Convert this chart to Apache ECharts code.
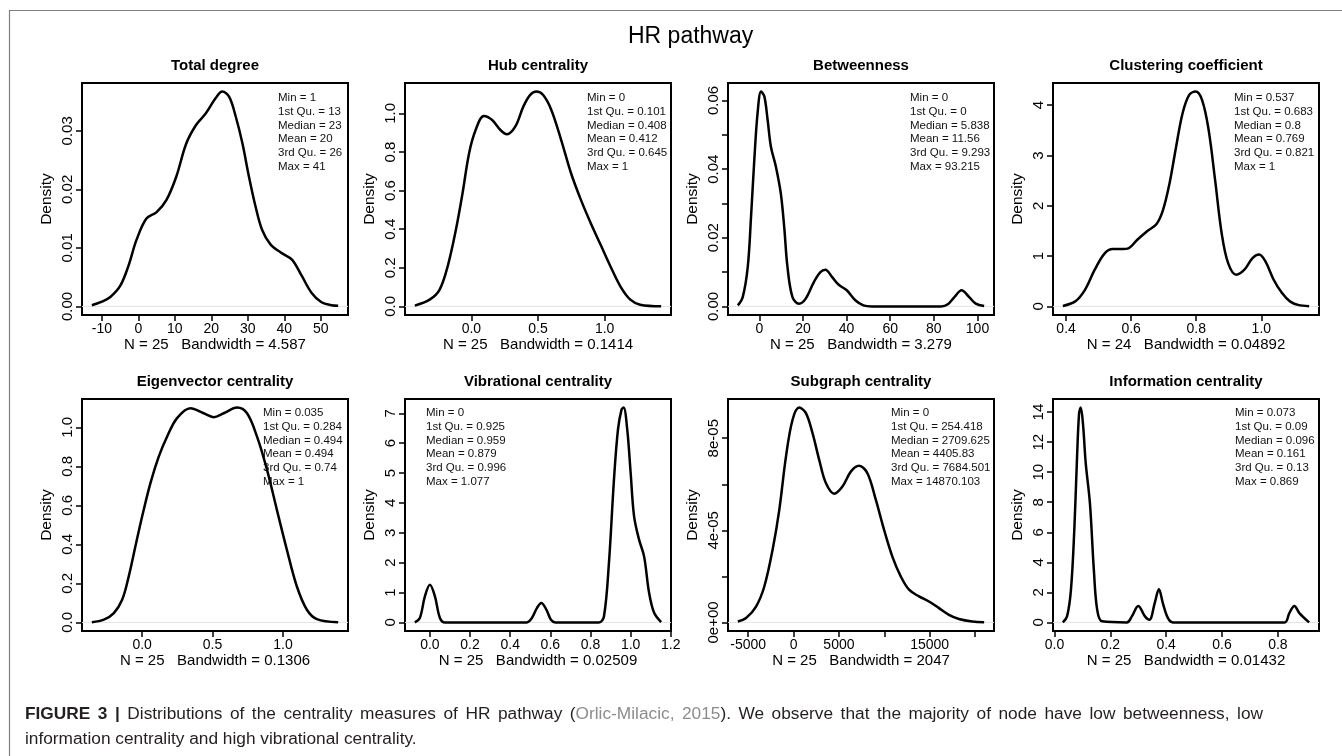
<!DOCTYPE html>
<html><head><meta charset="utf-8">
<script src="https://cdn.jsdelivr.net/npm/echarts@6/dist/echarts.min.js"></script>
<style>html,body{margin:0;padding:0;background:#fff}#c{width:1342px;height:756px}</style>
</head><body><div id="c"></div>
<script>
// ---------------- DATA ----------------
const mainTitle = 'HR pathway';
const panelTitles = ['Total degree','Hub centrality','Betweenness','Clustering coefficient',
  'Eigenvector centrality','Vibrational centrality','Subgraph centrality','Information centrality'];
const statLines = [
  ['Min = 1','1st Qu. = 13','Median = 23','Mean = 20','3rd Qu. = 26','Max = 41'],
  ['Min = 0','1st Qu. = 0.101','Median = 0.408','Mean = 0.412','3rd Qu. = 0.645','Max = 1'],
  ['Min = 0','1st Qu. = 0','Median = 5.838','Mean = 11.56','3rd Qu. = 9.293','Max = 93.215'],
  ['Min = 0.537','1st Qu. = 0.683','Median = 0.8','Mean = 0.769','3rd Qu. = 0.821','Max = 1'],
  ['Min = 0.035','1st Qu. = 0.284','Median = 0.494','Mean = 0.494','3rd Qu. = 0.74','Max = 1'],
  ['Min = 0','1st Qu. = 0.925','Median = 0.959','Mean = 0.879','3rd Qu. = 0.996','Max = 1.077'],
  ['Min = 0','1st Qu. = 254.418','Median = 2709.625','Mean = 4405.83','3rd Qu. = 7684.501','Max = 14870.103'],
  ['Min = 0.073','1st Qu. = 0.09','Median = 0.096','Mean = 0.161','3rd Qu. = 0.13','Max = 0.869']
];
const xAxisTitles = ['N = 25   Bandwidth = 4.587','N = 25   Bandwidth = 0.1414','N = 25   Bandwidth = 3.279',
  'N = 24   Bandwidth = 0.04892','N = 25   Bandwidth = 0.1306','N = 25   Bandwidth = 0.02509',
  'N = 25   Bandwidth = 2047','N = 25   Bandwidth = 0.01432'];
const yAxisTitle = 'Density';

const xTicks = [
  [-10,0,10,20,30,40,50],[0,0.5,1.0],[0,20,40,60,80,100],[0.4,0.6,0.8,1.0],
  [0,0.5,1.0],[0,0.2,0.4,0.6,0.8,1.0,1.2],[-5000,0,5000,10000,15000,20000],[0,0.2,0.4,0.6,0.8]
];
const xTickLabels = [
  ['-10','0','10','20','30','40','50'],['0.0','0.5','1.0'],['0','20','40','60','80','100'],['0.4','0.6','0.8','1.0'],
  ['0.0','0.5','1.0'],['0.0','0.2','0.4','0.6','0.8','1.0','1.2'],['-5000','0','5000','','15000',''],['0.0','0.2','0.4','0.6','0.8']
];
const yTicks = [
  [0,0.01,0.02,0.03],[0,0.2,0.4,0.6,0.8,1.0],[0,0.01,0.02,0.03,0.04,0.05,0.06],[0,1,2,3,4],
  [0,0.2,0.4,0.6,0.8,1.0],[0,1,2,3,4,5,6,7],[0,2e-5,4e-5,6e-5,8e-5],[0,2,4,6,8,10,12,14]
];
const yTickLabels = [
  ['0.00','0.01','0.02','0.03'],['0.0','0.2','0.4','0.6','0.8','1.0'],['0.00','','0.02','','0.04','','0.06'],['0','1','2','3','4'],
  ['0.0','0.2','0.4','0.6','0.8','1.0'],['0','1','2','3','4','5','6','7'],['0e+00','','4e-05','','8e-05'],['0','2','4','6','8','10','12','14']
];

// density curves: [x, density]
const curveTotalDegree = [[-12.76,0.0002],[-10,0.0008],[-7.7,0.0016],[-5,0.0035],[-2.8,0.0068],[-0.5,0.0114],[2.2,0.0150],[5.0,0.0161],[7.7,0.0182],[10.4,0.0222],[13.1,0.0278],[15.8,0.0310],[18.5,0.0330],[21.2,0.0356],[23.0,0.0367],[24.9,0.0358],[26.7,0.0324],[28.5,0.0279],[30.3,0.0222],[32.1,0.0171],[33.9,0.0131],[36.2,0.0106],[39.3,0.0091],[42.1,0.0080],[44.8,0.0052],[47.5,0.0023],[50.2,0.0007],[52.9,0.0002],[54.76,0.0001]];
const curveHub = [[-0.424,0.004],[-0.313,0.035],[-0.239,0.086],[-0.178,0.207],[-0.116,0.397],[-0.066,0.587],[-0.017,0.794],[0.032,0.914],[0.094,0.987],[0.156,0.966],[0.218,0.914],[0.267,0.892],[0.329,0.931],[0.39,1.035],[0.44,1.095],[0.489,1.113],[0.539,1.095],[0.60,1.018],[0.674,0.862],[0.748,0.690],[0.822,0.552],[0.896,0.431],[0.970,0.319],[1.044,0.207],[1.119,0.103],[1.193,0.035],[1.267,0.009],[1.424,0.001]];
const curveBetweenness = [[-9.84,0.0003],[-7.6,0.0027],[-5.3,0.0115],[-3.8,0.0261],[-2.3,0.0427],[-0.8,0.0563],[0.8,0.0626],[2.3,0.0612],[3.8,0.0544],[5.3,0.0466],[7.6,0.0407],[9.85,0.0329],[11.4,0.0232],[12.9,0.0115],[15.2,0.0027],[18.2,0.0008],[21.2,0.0022],[25,0.0071],[28,0.0100],[30.3,0.0107],[33.3,0.0086],[36.4,0.0063],[40.1,0.0047],[44,0.0018],[47.7,0.0003],[51.5,0],[60,0],[70,0],[80,0],[83.3,0],[86.4,0.0006],[89.4,0.0027],[92.7,0.0047],[96.2,0.0027],[99.2,0.0008],[103.05,0.0001]];
const curveClustering = [[0.390,0.01],[0.428,0.1],[0.458,0.33],[0.488,0.73],[0.518,1.05],[0.543,1.14],[0.568,1.14],[0.593,1.16],[0.618,1.32],[0.648,1.49],[0.678,1.64],[0.698,1.92],[0.718,2.45],[0.738,3.17],[0.758,3.84],[0.778,4.20],[0.798,4.27],[0.818,4.10],[0.838,3.51],[0.858,2.51],[0.878,1.46],[0.898,0.86],[0.923,0.63],[0.948,0.73],[0.973,0.96],[0.993,1.03],[1.013,0.89],[1.038,0.53],[1.063,0.27],[1.088,0.1],[1.113,0.03],[1.147,0.005]];
const curveEigenvector = [[-0.357,0.001],[-0.272,0.014],[-0.201,0.048],[-0.142,0.116],[-0.095,0.236],[-0.048,0.389],[0.0,0.543],[0.059,0.714],[0.118,0.85],[0.177,0.952],[0.248,1.047],[0.343,1.098],[0.437,1.072],[0.508,1.052],[0.579,1.072],[0.674,1.101],[0.745,1.072],[0.816,0.952],[0.887,0.782],[0.957,0.577],[1.028,0.372],[1.099,0.184],[1.17,0.065],[1.241,0.017],[1.392,0.001]];
const curveVibrational = [[-0.075,0.0],[-0.05,0.15],[-0.025,0.87],[0.0,1.26],[0.025,0.87],[0.05,0.15],[0.075,0.0],[0.2,0],[0.35,0],[0.483,0],[0.508,0.15],[0.533,0.48],[0.555,0.65],[0.58,0.43],[0.603,0.09],[0.625,0],[0.75,0],[0.842,0],[0.867,0.2],[0.892,2.0],[0.917,4.79],[0.937,6.46],[0.955,7.13],[0.965,7.19],[0.983,6.46],[1.0,5.01],[1.017,3.56],[1.042,2.77],[1.067,2.21],[1.092,0.99],[1.117,0.32],[1.152,0.01]];
const curveSubgraph = [[-6141,4e-7],[-5237,1.9e-6],[-4137,6.9e-6],[-3224,1.56e-5],[-2310,3.16e-5],[-1573,4.89e-5],[-836,7.2e-5],[-110,8.8e-5],[627,9.33e-5],[1364,9.09e-5],[2090,8.22e-5],[2828,7.06e-5],[3565,6.05e-5],[4478,5.59e-5],[5391,5.9e-5],[6315,6.55e-5],[7228,6.8e-5],[8142,6.48e-5],[9066,5.33e-5],[9979,4.02e-5],[10892,2.86e-5],[11816,2.0e-5],[12730,1.42e-5],[13830,1.13e-5],[14930,9.1e-6],[16031,6.2e-6],[17131,3.3e-6],[18231,1.5e-6],[19694,4e-7],[21011,1e-7]];
const curveInformation = [[0.030,0],[0.045,0.4],[0.059,2.17],[0.071,6.15],[0.080,10.58],[0.088,13.9],[0.094,14.3],[0.102,13.23],[0.112,10.58],[0.127,7.92],[0.141,3.5],[0.153,0.84],[0.171,0.07],[0.259,0],[0.277,0.4],[0.300,1.1],[0.324,0.4],[0.340,0.18],[0.359,1.29],[0.374,2.21],[0.388,1.29],[0.406,0.3],[0.424,0],[0.6,0],[0.824,0],[0.841,0.62],[0.859,1.1],[0.877,0.62],[0.912,0]];
const curves = [curveTotalDegree,curveHub,curveBetweenness,curveClustering,curveEigenvector,curveVibrational,curveSubgraph,curveInformation];

// caption: [text, style] segments; b = bold, n = normal, c = citation
const captionSegments1 = [['FIGURE 3 |','b'],[' Distributions of the centrality measures of HR pathway (','n'],['Orlic-Milacic, 2015','c'],['). We observe that the majority of node have low betweenness, low','n']];
const captionLine2 = 'information centrality and high vibrational centrality.';

// ---------------- LAYOUT ----------------
const FONT = '"Liberation Sans", Arial, Helvetica, sans-serif';
const gridLefts = [82, 405, 728, 1053];
const gridWidth = 266;
const rowTops = [83, 399];
const gridHeight = 232;
const statOffsets = [196, 182, 182, 181, 181, 21, 163, 182];

const grids = [], xAxes = [], yAxes = [], series = [], graphics = [];

function labelFormatter(ticks, labels) {
  const span = Math.abs(ticks[ticks.length-1] - ticks[0]) || 1;
  return function (v) {
    for (let i = 0; i < ticks.length; i++) if (Math.abs(ticks[i] - v) < span * 1e-6) return labels[i];
    return '';
  };
}

for (let i = 0; i < 8; i++) {
  const row = Math.floor(i / 4), col = i % 4;
  const left = gridLefts[col], top = rowTops[row];
  grids.push({left: left, top: top, width: gridWidth, height: gridHeight, show: true,
    borderColor: '#000', borderWidth: 2, backgroundColor: 'transparent', containLabel: false});
  const c = curves[i];
  const x0 = c[0][0], x1 = c[c.length-1][0];
  const xpad = (x1 - x0) * 0.04;
  let ymax = 0; c.forEach(p => { if (p[1] > ymax) ymax = p[1]; });
  const ypad = ymax * 0.04;
  const xl = xTicks[i].filter((t, k) => xTickLabels[i][k] !== '');
  const yl = yTicks[i].filter((t, k) => yTickLabels[i][k] !== '');
  xAxes.push({type: 'value', gridIndex: i, min: x0 - xpad, max: x1 + xpad, position: 'bottom',
    axisLine: {show: false, onZero: false}, splitLine: {show: false},
    axisTick: {show: true, customValues: xTicks[i], length: 6, lineStyle: {color: '#000', width: 1.5}},
    axisLabel: {show: true, customValues: xl, formatter: labelFormatter(xTicks[i], xTickLabels[i]),
      fontSize: 14, color: '#000', fontFamily: FONT, margin: 7, hideOverlap: false}
  });
  yAxes.push({type: 'value', gridIndex: i, min: -ypad, max: ymax + ypad, position: 'left',
    name: yAxisTitle, nameLocation: 'middle', nameGap: 27, nameRotate: 90,
    nameTextStyle: {fontSize: 15.5, color: '#000', fontFamily: FONT},
    axisLine: {show: false, onZero: false}, splitLine: {show: false},
    axisTick: {show: true, customValues: yTicks[i], length: 6, lineStyle: {color: '#000', width: 1.5}},
    axisLabel: {show: true, customValues: yl, formatter: labelFormatter(yTicks[i], yTickLabels[i]),
      rotate: 90, fontSize: 15, color: '#000', fontFamily: FONT, margin: 7, hideOverlap: false}
  });
  series.push({type: 'line', xAxisIndex: i, yAxisIndex: i, data: [[x0 - xpad, 0], [x1 + xpad, 0]],
    showSymbol: false, silent: true, z: 1, lineStyle: {color: '#e3e3e3', width: 1}, animation: false});
  series.push({type: 'line', xAxisIndex: i, yAxisIndex: i, data: c, smooth: 0.35,
    showSymbol: false, silent: true, z: 3, lineStyle: {color: '#000', width: 2.5}, animation: false, clip: true});

  graphics.push({type: 'text', x: left + gridWidth / 2, y: top - 17, silent: true,
    style: {text: panelTitles[i], font: 'bold 15px ' + FONT, fill: '#000', align: 'center', verticalAlign: 'middle'}});
  graphics.push({type: 'text', x: left + gridWidth / 2, y: top + gridHeight + 30, silent: true,
    style: {text: xAxisTitles[i], font: '15px ' + FONT, fill: '#000', align: 'center', verticalAlign: 'middle'}});
  graphics.push({type: 'text', x: left + statOffsets[i], y: top + (row === 0 ? 8 : 7), silent: true,
    style: {text: statLines[i].join('\n'), font: '11.5px ' + FONT, fill: '#111', align: 'left', verticalAlign: 'top', lineHeight: 13.8}});
}

graphics.push({type: 'text', x: 628, y: 37, silent: true,
  style: {text: mainTitle, font: '23px ' + FONT, fill: '#000', align: 'left', verticalAlign: 'middle'}});
graphics.push({type: 'polyline', silent: true, shape: {points: [[9.5, 756], [9.5, 10.5], [1342, 10.5]]},
  style: {stroke: '#808080', lineWidth: 1.2, fill: null}});

// ---- caption (first line justified between capLeft and capRight) ----
const capLeft = 25, capRight = 1263, capSize = 17.3;
const capStyles = {
  b: {font: 'bold ' + capSize + 'px ' + FONT, fill: '#231f20'},
  n: {font: capSize + 'px ' + FONT, fill: '#231f20'},
  c: {font: capSize + 'px ' + FONT, fill: '#8c8c8c'}
};
const mctx = document.createElement('canvas').getContext('2d');
function measure(t, s) { mctx.font = capStyles[s].font; return mctx.measureText(t).width; }
const words = []; let cur = [];
captionSegments1.forEach(([txt, s]) => {
  const pieces = txt.split(' ');
  pieces.forEach((p, k) => {
    if (k > 0) { if (cur.length) words.push(cur); cur = []; }
    if (p.length) cur.push([p, s]);
  });
});
if (cur.length) words.push(cur);
const wordWidths = words.map(w => w.reduce((a, [t, s]) => a + measure(t, s), 0));
const totalW = wordWidths.reduce((a, b) => a + b, 0);
const gap = (capRight - capLeft - totalW) / (words.length - 1);
let cx = capLeft;
words.forEach((w, k) => {
  let x = cx;
  w.forEach(([t, s]) => {
    graphics.push({type: 'text', x: x, y: 714, silent: true,
      style: {text: t, font: capStyles[s].font, fill: capStyles[s].fill, align: 'left', verticalAlign: 'middle'}});
    x += measure(t, s);
  });
  cx += wordWidths[k] + gap;
});
graphics.push({type: 'text', x: capLeft, y: 739, silent: true,
  style: {text: captionLine2, font: capSize + 'px ' + FONT, fill: '#231f20', align: 'left', verticalAlign: 'middle'}});

const chart = echarts.init(document.getElementById('c'), null, {renderer: 'canvas'});
chart.setOption({
  animation: false,
  backgroundColor: '#fff',
  grid: grids, xAxis: xAxes, yAxis: yAxes, series: series, graphic: graphics
});
</script></body></html>
